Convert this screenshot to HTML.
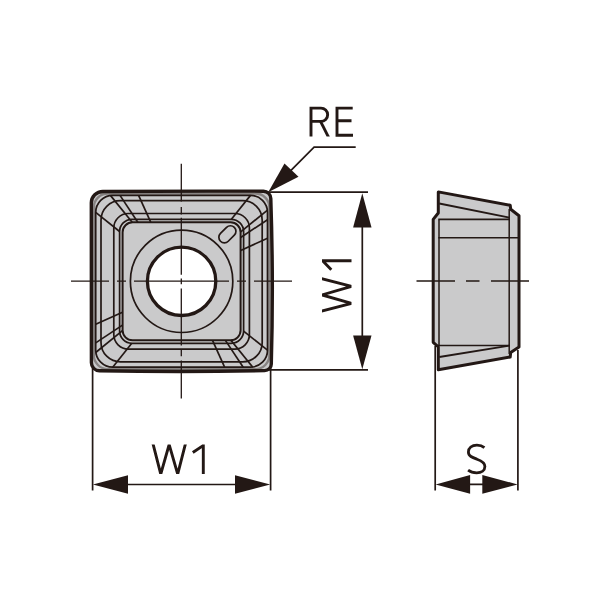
<!DOCTYPE html>
<html><head><meta charset="utf-8"><title>Insert</title>
<style>html,body{margin:0;padding:0;background:#fff;font-family:"Liberation Sans",sans-serif;}svg{display:block}</style>
</head><body>
<svg width="600" height="600" viewBox="0 0 600 600">
<rect width="600" height="600" fill="#fff"/>
<!-- main view -->
<g id="main">
<path id="outline" d="M91.3,202.8 A11.5,11.5 0 0 1 102.8,191.5 Q180,190.9 263.5,191.2 A7.3,7.3 0 0 1 270.8,198.5 Q273.6,281 271.3,364 A6.6,6.6 0 0 1 264.7,370.6 Q181,372.4 99.4,370.7 A8,8 0 0 1 91.4,362.7 Z" fill="#cacacb" stroke="#231815" stroke-width="3.4" stroke-linejoin="round"/>
<g transform="translate(181.6,281.3)" fill="none" stroke="#231815" stroke-width="1.7" stroke-linecap="butt">
<rect x="-87.8" y="-87.8" width="175.6" height="175.6" rx="14" ry="14" fill="none" stroke="#231815" stroke-opacity="0.4" stroke-width="2.4"/>
<rect x="-85.9" y="-85.9" width="171.8" height="171.8" rx="17" ry="17" fill="none" stroke="#231815" stroke-width="1.7" />
<rect x="-80.6" y="-80.6" width="161.2" height="161.2" rx="19.5" ry="19.5" fill="none" stroke="#231815" stroke-width="1.7" />
<rect x="-67.8" y="-67.8" width="135.6" height="135.6" rx="14.5" ry="14.5" fill="none" stroke="#231815" stroke-width="1.7" />
<rect x="-62.0" y="-62.0" width="124.0" height="124.0" rx="12.3" ry="12.3" fill="none" stroke="#231815" stroke-width="1.7" />
<rect x="-59.0" y="-59.0" width="118.0" height="118.0" rx="10" ry="10" fill="none" stroke="#231815" stroke-width="2.0" />
<g id="q">
<path d="M-85.9,-68.9 L-62,-49.8" />
<path d="M-71.2,-85.9 L-49.4,-59.1" />
<path d="M-61.6,-85.9 L-43.8,-59.1" />
<path d="M-43.0,-85.9 L-30.9,-59.1" />
</g>
<g transform="rotate(90)">
<path d="M-85.9,-68.9 L-62,-49.8" />
<path d="M-71.2,-85.9 L-49.4,-59.1" />
<path d="M-61.6,-85.9 L-43.8,-59.1" />
<path d="M-43.0,-85.9 L-30.9,-59.1" />
</g>
<g transform="rotate(180)">
<path d="M-85.9,-68.9 L-62,-49.8" />
<path d="M-71.2,-85.9 L-49.4,-59.1" />
<path d="M-61.6,-85.9 L-43.8,-59.1" />
<path d="M-43.0,-85.9 L-30.9,-59.1" />
</g>
<g transform="rotate(270)">
<path d="M-85.9,-68.9 L-62,-49.8" />
<path d="M-71.2,-85.9 L-49.4,-59.1" />
<path d="M-61.6,-85.9 L-43.8,-59.1" />
<path d="M-43.0,-85.9 L-30.9,-59.1" />
</g>
<circle r="51.2" stroke-width="1.7"/>
<circle r="34.2" fill="#fff" stroke-width="3.3"/>
</g>
<rect x="-9.8" y="-5.5" width="19.6" height="11" rx="5.5" transform="translate(227.4,234.3) rotate(-45)" fill="none" stroke="#231815" stroke-width="1.7"/>
</g>
<!-- side view -->
<g id="side">
<path d="M438.3,191.9 L510.2,205.3 L510.7,209.3 L519,215.8 L519,346.9 L510.7,352.4 L510.2,357 L438.3,369.8 L438.3,346.9 L433.2,342.3 L433.2,219.4 L438.3,213 Z" fill="#cacacb" stroke="#231815" stroke-width="3" stroke-linejoin="round"/>
<g stroke="#231815" stroke-width="1.5" fill="none">
<path d="M439.3,203.5 L509.5,217.6" stroke-width="1.8"/>
<path d="M438.3,219.4 H509.8" stroke-width="1.8"/>
<path d="M438.3,237.8 H518"/>
<path d="M439,219.4 V346"/>
<path d="M509.2,209 V354"/>
<path d="M438.3,345.4 H509.8"/>
<path d="M439.3,357 L509.5,345.6" stroke-width="1.8"/>
</g>
</g>
<!-- centre lines -->
<g stroke="#231815" stroke-width="1.3" fill="none">
<path d="M71,281.1 H109 M117,281.1 H126 M134,281.1 H229 M237,281.1 H246 M254,281.1 H292"/>
<path d="M181.3,163.7 V201.6 M181.3,207 V214.6 M181.3,217.8 V274.7 M181.3,278.5 V284.3 M181.3,288.5 V345.4 M181.3,349.8 V356.3 M181.3,360.6 V398.5"/>
<path d="M416.5,281 H455 M466,281 H479.5 M491,281 H529"/>
</g>
<!-- dimensions -->
<g stroke="#231815" stroke-width="1.7" fill="none">
<path d="M92.6,366 V490.5 M270.6,366 V490.5 M110,484.5 H252"/>
<path d="M267,192.2 H368 M267,369.8 H368 M362.3,210 V352"/>
<path d="M435.2,346 V490.4 M517.9,350 V490.4 M469,484.4 H483"/>
<path d="M355.7,147.2 H314.1 L290,171.3"/>
</g>
<g fill="#231815" stroke="none">
<path d="M92.9,484.5 L128,475.3 L128,493.7 Z"/>
<path d="M270.2,484.5 L235,475.3 L235,493.7 Z"/>
<path d="M362.3,193.2 L353.1,227.4 L371.5,227.4 Z"/>
<path d="M362.3,369.3 L353.1,335.6 L371.5,335.6 Z"/>
<path d="M435.6,484.4 L470.1,475.1 L470.1,493.7 Z"/>
<path d="M517.6,484.4 L482.3,475.1 L482.3,493.7 Z"/>
<path d="M268.2,192.2 L284.5,163.5 L298.5,176.8 Z"/>
</g>
<!-- text -->
<defs><clipPath id="capclip"><rect x="-5" y="-29.5" width="45" height="29.5"/></clipPath></defs>
<g fill="none" stroke="#231815" stroke-width="2.9" stroke-linecap="butt" stroke-linejoin="miter">
<path d="M311,136.5 V106.8 M311,108.1 H321 A6.65,6.65 0 0 1 321,121.4 H311"/>
<path d="M319,121.4 L322.2,121.4 L329.8,136.5 L326.6,136.5 Z" fill="#231815" stroke="none"/>
<path d="M352.7,108.1 H337 V135.2 H353 M337,120.8 H351.5"/>
<g id="w1" transform="translate(153.2,474.1)">
<path clip-path="url(#capclip)" d="M-0.51,-31.5 L7.55,0 L15.95,-29.5 L24.5,0 L32.56,-31.5" stroke-linejoin="miter" stroke-miterlimit="10"/>
<path d="M39.6,-21.6 L49.5,-28.2 M50.1,-29.5 V0"/>
</g>
<g transform="translate(351.5,310.9) rotate(-90)">
<path clip-path="url(#capclip)" d="M-0.51,-31.5 L7.55,0 L15.95,-29.5 L24.5,0 L32.56,-31.5" stroke-linejoin="miter" stroke-miterlimit="10"/>
<path d="M41.2,-20.2 L49.6,-28.4 M50.1,-29.5 V0"/>
</g>
<path d="M484.4,447.6 C482.3,445.8 479.8,445.1 476.9,445.1 C471.8,445.1 468.4,448 468.4,451.9 C468.4,456.2 472.5,457.6 477,459.2 C481.5,460.8 484.9,462.4 484.9,466.5 C484.9,470.4 481.4,472.8 476.7,472.8 C473.4,472.8 470.6,472.1 468.1,470.2" stroke-width="2.8"/>
</g>
</svg>
</body></html>
